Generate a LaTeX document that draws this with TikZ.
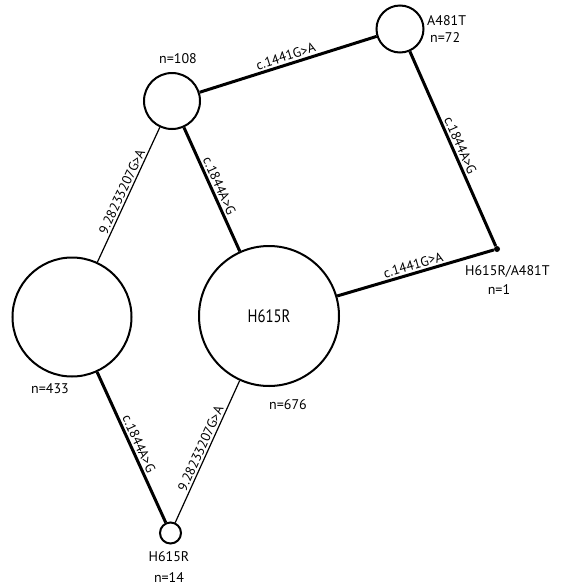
\documentclass[tikz,border=0pt]{standalone}
\usepackage{fontspec}
\setmainfont{PT Sans}
\begin{document}
\begin{tikzpicture}[x=1pt,y=-1pt,
  hap/.style={circle,draw,line width=2pt,inner sep=0pt},
  mut/.style={line width=3pt},
  mutthin/.style={line width=1.2pt},
  lbl/.style={font=\fontsize{13.5}{13.5}\selectfont,sloped,above,inner sep=2pt},
  cnt/.style={font=\fontsize{14}{16}\selectfont,inner sep=0pt}]
\useasboundingbox (0,0) rectangle (582,587);

% haplotype circles, sized by count
\node[hap,minimum size=56pt] (h108) at (172,101) {};
\node[hap,minimum size=47pt] (h72) at (400,29) {};
\node[hap,minimum size=119pt] (h433) at (72,317) {};
\node[hap,minimum size=140pt,font=\fontsize{18}{18}\selectfont] (h676) at (269,316) {\scalebox{0.82}[1]{H615R}};
\node[circle,fill,inner sep=0pt,minimum size=6pt] (h1) at (497,249) {};
\node[hap,minimum size=21pt] (h14) at (170.5,533) {};

% counts and names
\node[cnt] (t108) at (178,59) {n=108};
\node[cnt,anchor=west] (t72a) at (427,21) {A481T};
\node[cnt,anchor=west] (t72b) at (430,38) {n=72};
\node[cnt,anchor=west] (t1a) at (465,271) {H615R/A481T};
\node[cnt] (t1b) at (499,290) {n=1};
\node[cnt] (t433) at (50,389) {n=433};
\node[cnt] (t676) at (288,405) {n=676};
\node[cnt] (t14a) at (169,557) {H615R};
\node[cnt] (t14b) at (169,578) {n=14};

% mutational steps
\draw[mut] (h108) -- node[lbl] (e1) {c.1441G>A} (h72);
\draw[mut] (h72) -- node[lbl] (e2) {c.1844A>G} (h1);
\draw[mut] (h676) -- node[lbl] (e3) {c.1441G>A} (h1);
\draw[mut] (h108) -- node[lbl] (e4) {c.1844A>G} (h676);
\draw[mutthin] (h108) -- node[lbl] (e5) {9.28233207G>A} (h433);
\draw[mut] (h433) -- node[lbl] (e6) {c.1844A>G} (h14);
\draw[mutthin] (h676) -- node[lbl] (e7) {9.28233207G>A} (h14);
\end{tikzpicture}
\end{document}
